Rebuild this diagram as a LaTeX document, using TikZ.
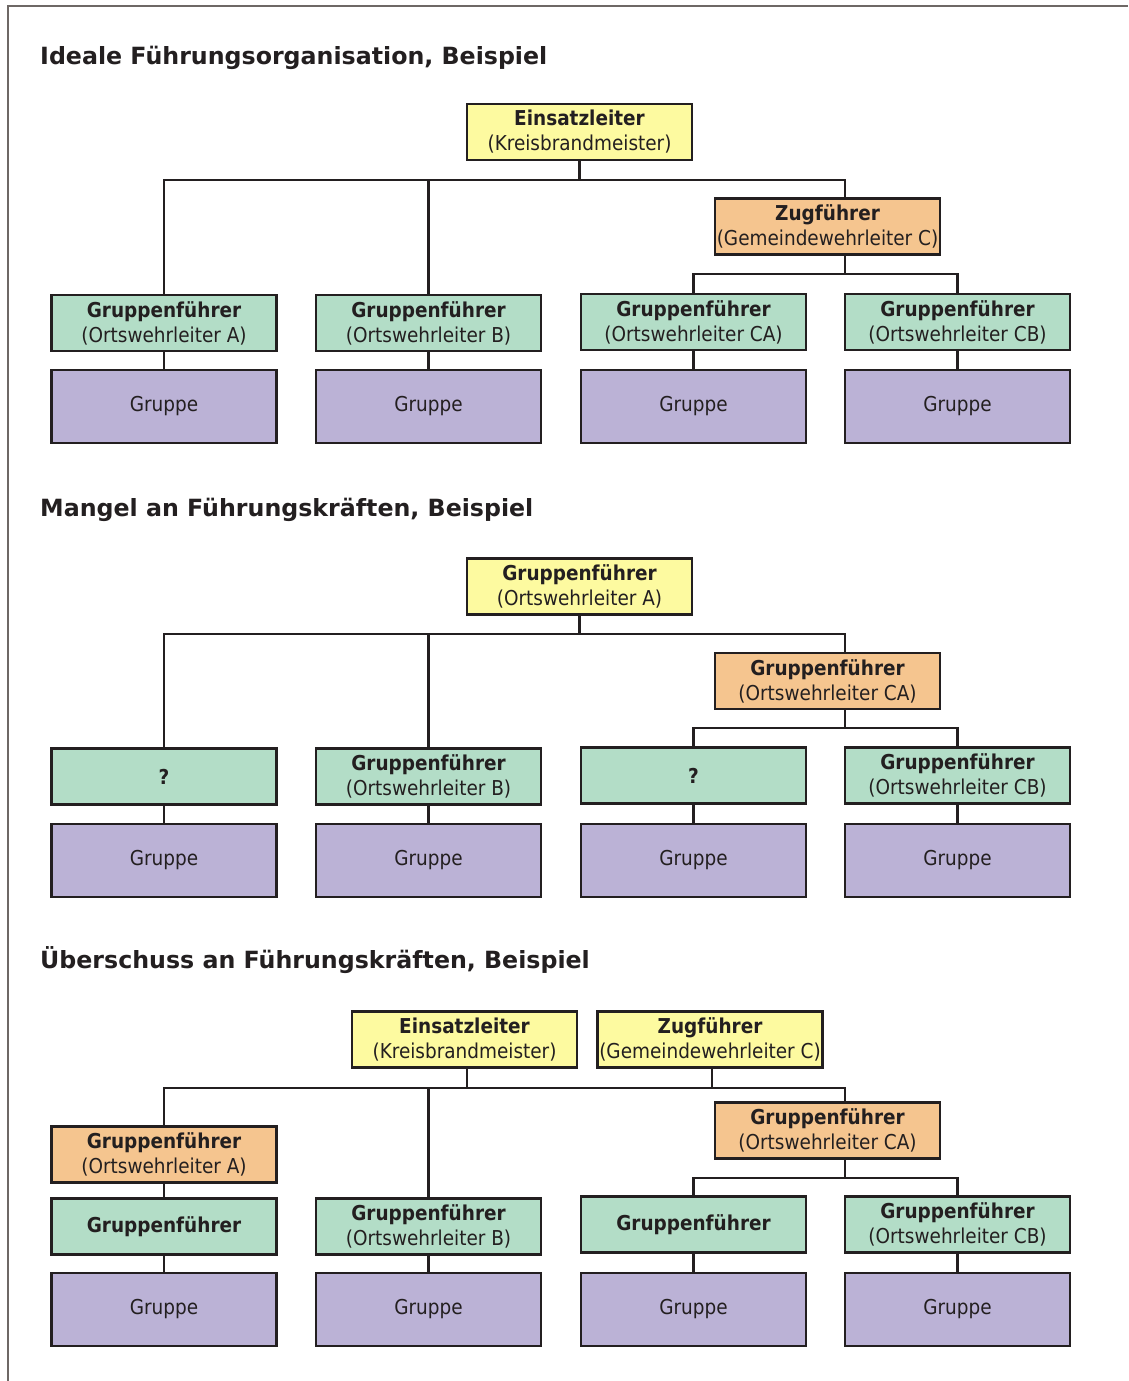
\documentclass[tikz,border=0pt]{standalone}
\usepackage{fontspec}
\setmainfont{DejaVu Sans}
\newfontfamily\boxfamily{DejaVu Sans Condensed}
\usetikzlibrary{calc}

\definecolor{dk}{RGB}{35,31,32}
\definecolor{framegray}{RGB}{110,104,101}
\definecolor{yel}{RGB}{253,250,160}
\definecolor{ora}{RGB}{245,197,143}
\definecolor{grn}{RGB}{179,221,199}
\definecolor{lav}{RGB}{187,178,214}

\newcommand\boxfont{\boxfamily\fontsize{20.5}{25}\selectfont}
\newcommand\headfont{\fontsize{23.7}{28}\selectfont\bfseries}

\begin{document}
\begin{tikzpicture}[x=1pt,y=-1pt,
  box/.style={draw=dk, line width=2.6pt, minimum width=225pt, minimum height=56pt,
    inner sep=0pt, align=center, font=\boxfont, text=dk},
  unitbox/.style={box, fill=lav, minimum height=73pt},
  head/.style={anchor=base west, font=\headfont, text=dk, inner sep=0pt},
  link/.style={draw=dk, line width=2.6pt, line join=miter}]

\useasboundingbox (0,0) rectangle (1128,1381);

% page frame
\draw[framegray, line width=1.8pt] (1128,6) -- (8,6) -- (8,1381);

% ---------------- section 1 ----------------
\node[head] (t1) at (40,64) {Ideale Führungsorganisation, Beispiel};

\node[box, fill=yel] (s1el) at (579.5,132) {\textbf{Einsatzleiter}\\(Kreisbrandmeister)};
\node[box, fill=ora] (s1zf) at (827.5,226.5) {\textbf{Zugführer}\\(Gemeindewehrleiter C)};
\node[box, fill=grn] (s1gA) at (164,323) {\textbf{Gruppenführer}\\(Ortswehrleiter A)};
\node[box, fill=grn] (s1gB) at (428.5,323) {\textbf{Gruppenführer}\\(Ortswehrleiter B)};
\node[box, fill=grn] (s1gCA) at (693.5,322) {\textbf{Gruppenführer}\\(Ortswehrleiter CA)};
\node[box, fill=grn] (s1gCB) at (957.5,322) {\textbf{Gruppenführer}\\(Ortswehrleiter CB)};
\node[unitbox] (s1uA) at (164,406.5) {Gruppe};
\node[unitbox] (s1uB) at (428.5,406.5) {Gruppe};
\node[unitbox] (s1uCA) at (693.5,406.5) {Gruppe};
\node[unitbox] (s1uCB) at (957.5,406.5) {Gruppe};

\coordinate (s1bar) at (845,180);
\coordinate (s1sub) at (845,274);
\draw[link] (s1el.south) -- (s1el.south |- s1bar);
\draw[link] (s1gA.north) |- (s1bar) -- (s1zf.north -| s1bar);
\draw[link] (s1gB.north) -- (s1gB.north |- s1bar);
\draw[link] (s1zf.south -| s1sub) -- (s1sub);
\draw[link] (s1gCA.north) |- (s1sub) -| (s1gCB.north);
\draw[link] (s1gA.south) -- (s1uA.north);
\draw[link] (s1gB.south) -- (s1uB.north);
\draw[link] (s1gCA.south) -- (s1uCA.north);
\draw[link] (s1gCB.south) -- (s1uCB.north);

% ---------------- section 2 ----------------
\node[head] (t2) at (40,516) {Mangel an Führungskräften, Beispiel};

\node[box, fill=yel] (s2top) at (579.5,586.5) {\textbf{Gruppenführer}\\(Ortswehrleiter A)};
\node[box, fill=ora] (s2zf) at (827.5,681) {\textbf{Gruppenführer}\\(Ortswehrleiter CA)};
\node[box, fill=grn] (s2gA) at (164,776.5) {\textbf{?}};
\node[box, fill=grn] (s2gB) at (428.5,776.5) {\textbf{Gruppenführer}\\(Ortswehrleiter B)};
\node[box, fill=grn] (s2gCA) at (693.5,775.5) {\textbf{?}};
\node[box, fill=grn] (s2gCB) at (957.5,775.5) {\textbf{Gruppenführer}\\(Ortswehrleiter CB)};
\node[unitbox] (s2uA) at (164,860.5) {Gruppe};
\node[unitbox] (s2uB) at (428.5,860.5) {Gruppe};
\node[unitbox] (s2uCA) at (693.5,860.5) {Gruppe};
\node[unitbox] (s2uCB) at (957.5,860.5) {Gruppe};

\coordinate (s2bar) at (845,634);
\coordinate (s2sub) at (845,728);
\draw[link] (s2top.south) -- (s2top.south |- s2bar);
\draw[link] (s2gA.north) |- (s2bar) -- (s2zf.north -| s2bar);
\draw[link] (s2gB.north) -- (s2gB.north |- s2bar);
\draw[link] (s2zf.south -| s2sub) -- (s2sub);
\draw[link] (s2gCA.north) |- (s2sub) -| (s2gCB.north);
\draw[link] (s2gA.south) -- (s2uA.north);
\draw[link] (s2gB.south) -- (s2uB.north);
\draw[link] (s2gCA.south) -- (s2uCA.north);
\draw[link] (s2gCB.south) -- (s2uCB.north);

% ---------------- section 3 ----------------
\node[head] (t3) at (40,968) {Überschuss an Führungskräften, Beispiel};

\node[box, fill=yel] (s3el) at (464.5,1039.5) {\textbf{Einsatzleiter}\\(Kreisbrandmeister)};
\node[box, fill=yel] (s3zf) at (710,1039.5) {\textbf{Zugführer}\\(Gemeindewehrleiter C)};
\node[box, fill=ora] (s3oA) at (164,1154.5) {\textbf{Gruppenführer}\\(Ortswehrleiter A)};
\node[box, fill=ora] (s3oC) at (827.5,1130.5) {\textbf{Gruppenführer}\\(Ortswehrleiter CA)};
\node[box, fill=grn] (s3gA) at (164,1226.5) {\textbf{Gruppenführer}};
\node[box, fill=grn] (s3gB) at (428.5,1226.5) {\textbf{Gruppenführer}\\(Ortswehrleiter B)};
\node[box, fill=grn] (s3gCA) at (693.5,1224.5) {\textbf{Gruppenführer}};
\node[box, fill=grn] (s3gCB) at (957.5,1224.5) {\textbf{Gruppenführer}\\(Ortswehrleiter CB)};
\node[unitbox] (s3uA) at (164,1309.5) {Gruppe};
\node[unitbox] (s3uB) at (428.5,1309.5) {Gruppe};
\node[unitbox] (s3uCA) at (693.5,1309.5) {Gruppe};
\node[unitbox] (s3uCB) at (957.5,1309.5) {Gruppe};

\coordinate (s3bar) at (845,1088);
\coordinate (s3sub) at (845,1178);
\draw[link] ($(s3el.south)+(2.5,0)$) -- ($(s3el.south |- s3bar)+(2.5,0)$);
\draw[link] ($(s3zf.south)+(2,0)$) -- ($(s3zf.south |- s3bar)+(2,0)$);
\draw[link] (s3oA.north) |- (s3bar) -- (s3oC.north -| s3bar);
\draw[link] (s3gB.north) -- (s3gB.north |- s3bar);
\draw[link] (s3oC.south -| s3sub) -- (s3sub);
\draw[link] (s3gCA.north) |- (s3sub) -| (s3gCB.north);
\draw[link] (s3oA.south) -- (s3gA.north);
\draw[link] (s3gA.south) -- (s3uA.north);
\draw[link] (s3gB.south) -- (s3uB.north);
\draw[link] (s3gCA.south) -- (s3uCA.north);
\draw[link] (s3gCB.south) -- (s3uCB.north);
\end{tikzpicture}
\end{document}
